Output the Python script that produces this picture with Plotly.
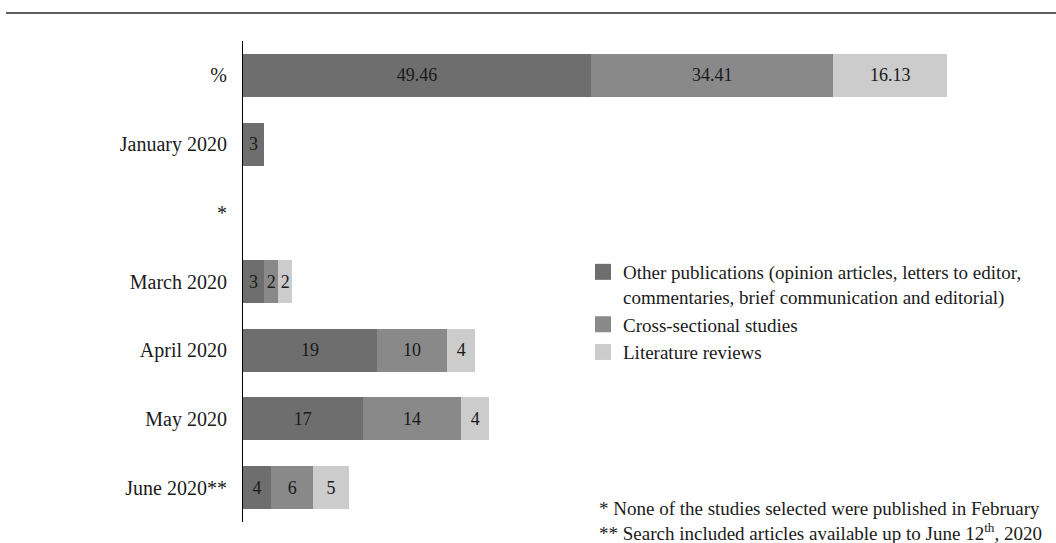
import plotly.graph_objects as go

categories = ["%", "January 2020", "*", "March 2020", "April 2020", "May 2020", "June 2020**"]
other = [49.46, 3, None, 3, 19, 17, 4]
cross = [34.41, None, None, 2, 10, 14, 6]
lit = [16.13, None, None, 2, 4, 4, 5]
series_names = [
    "Other publications (opinion articles, letters to editor,<br>commentaries, brief communication and editorial)",
    "Cross-sectional studies",
    "Literature reviews",
]
colors = ["#6e6e6e", "#898989", "#cccccc"]

FONT = "Liberation Serif"
W, H = 1056, 543
ML, MR, MT, MB = 243, 0, 41, 21
PX_PER_UNIT = 7.04
plot_w = W - ML - MR
plot_h = H - MT - MB


def fmt(v):
    if v is None:
        return ""
    return f"{v:g}" if isinstance(v, float) else str(v)


fig = go.Figure()
for name, vals, col in zip(series_names, [other, cross, lit], colors):
    fig.add_trace(go.Bar(
        y=categories, x=vals, name=name, orientation="h",
        marker=dict(color=col, line=dict(width=0)),
        text=[fmt(v) for v in vals], textposition="inside",
        insidetextanchor="middle", textangle=0,
        textfont=dict(family=FONT, size=18, color="#1a1a1a"),
        cliponaxis=False, showlegend=False,
    ))

# legend entries with larger square swatches
for name, col in zip(series_names, colors):
    fig.add_trace(go.Scatter(
        x=[None], y=[None], mode="markers", name=name,
        marker=dict(symbol="square", size=16, color=col, line=dict(width=0)),
        showlegend=True, hoverinfo="skip",
    ))

fig.update_layout(
    width=W, height=H,
    margin=dict(l=ML, r=MR, t=MT, b=MB),
    barmode="stack", bargap=0.374,
    plot_bgcolor="white", paper_bgcolor="white",
    font=dict(family=FONT, size=19, color="#1a1a1a"),
    uniformtext=dict(mode="show", minsize=18),
    xaxis=dict(range=[0, plot_w / PX_PER_UNIT], visible=False),
    yaxis=dict(categoryorder="array", categoryarray=categories[::-1],
               showline=True, linecolor="black", linewidth=1,
               showgrid=False, ticks="", ticklabelstandoff=11,
               tickfont=dict(family=FONT, size=20, color="#1a1a1a")),
    legend=dict(x=(583 - ML) / plot_w, y=(H - MB - 253) / plot_h,
                xanchor="left", yanchor="top", traceorder="normal",
                valign="top", itemsizing="trace",
                font=dict(family=FONT, size=19, color="#1a1a1a"),
                bgcolor="rgba(0,0,0,0)", itemclick=False, tracegroupgap=0),
    showlegend=True,
)

fig.add_shape(type="line", xref="paper", yref="paper",
              x0=(6 - ML) / plot_w, x1=1.0,
              y0=(H - MB - 13) / plot_h, y1=(H - MB - 13) / plot_h,
              line=dict(color="#5f5f5f", width=2))

fig.add_annotation(
    xref="paper", yref="paper",
    x=(597 - ML) / plot_w, y=(H - MB - 508) / plot_h,
    xanchor="left", yanchor="middle", showarrow=False, align="left",
    text="* None of the studies selected were published in February",
    font=dict(family=FONT, size=19, color="#1a1a1a"))
fig.add_annotation(
    xref="paper", yref="paper",
    x=(597 - ML) / plot_w, y=(H - MB - 532) / plot_h,
    xanchor="left", yanchor="middle", showarrow=False, align="left",
    text="** Search included articles available up to June 12<sup>th</sup>, 2020",
    font=dict(family=FONT, size=19, color="#1a1a1a"))

fig.write_html("out.html", config={"displayModeBar": False},
               post_script="document.body.style.margin='0';document.body.style.overflow='hidden';")
